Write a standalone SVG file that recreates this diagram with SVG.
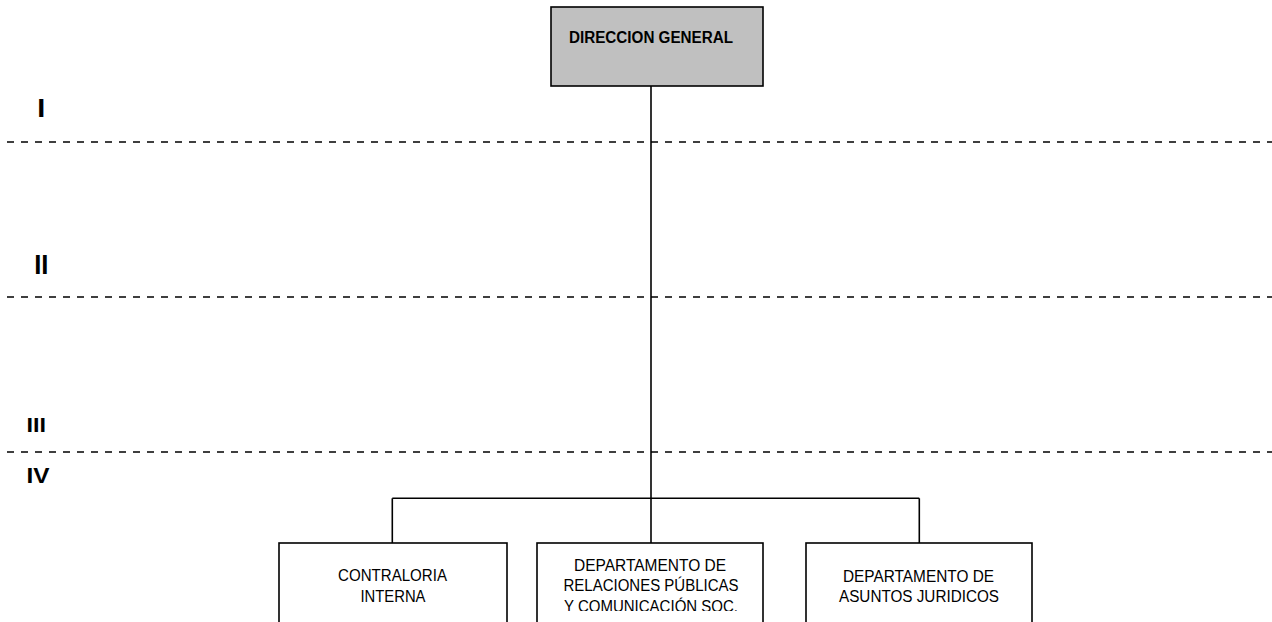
<svg xmlns="http://www.w3.org/2000/svg" width="1272" height="622" viewBox="0 0 1272 622">
<style>
.box{fill:#ffffff;stroke:#000;stroke-width:1.6}
.top{fill:#c0c0c0;stroke:#000;stroke-width:1.6}
.t{font-family:"Liberation Sans",Arial,sans-serif;font-size:16px;fill:#000;text-anchor:middle}
.b{font-weight:bold}
.lvl{font-family:"Liberation Sans",Arial,sans-serif;font-weight:bold;fill:#000}
.dash{stroke:#000;stroke-width:1.6;stroke-dasharray:7 7;fill:none}
.conn{stroke:#000;stroke-width:1.6;fill:none}
</style>
<defs>
<clipPath id="clipMid"><rect x="537" y="543" width="226" height="68"/></clipPath>
</defs>
<rect width="1272" height="622" fill="#ffffff"/>
<g id="levels">
<line class="dash" x1="7" y1="142" x2="1272" y2="142"/>
<line class="dash" x1="7" y1="297" x2="1272" y2="297"/>
<line class="dash" x1="7" y1="452" x2="1272" y2="452"/>
<text class="lvl" x="37.3" y="117" font-size="26.5" textLength="8" lengthAdjust="spacingAndGlyphs">I</text>
<text class="lvl" x="34.2" y="273.5" font-size="28" textLength="14.3" lengthAdjust="spacingAndGlyphs">II</text>
<text class="lvl" x="26.6" y="431.7" font-size="20" textLength="19.5" lengthAdjust="spacingAndGlyphs">III</text>
<text class="lvl" x="26.5" y="483" font-size="22.5" textLength="23" lengthAdjust="spacingAndGlyphs">IV</text>
</g>
<g id="connectors">
<line class="conn" x1="651" y1="86" x2="651" y2="543"/>
<line class="conn" x1="392.3" y1="498.3" x2="919.3" y2="498.3"/>
<line class="conn" x1="392.3" y1="498.3" x2="392.3" y2="543"/>
<line class="conn" x1="919.3" y1="498.3" x2="919.3" y2="543"/>
</g>
<g id="direccion-general">
<rect class="top" x="551" y="7" width="212" height="79"/>
<text class="t b" x="651" y="43" textLength="164" lengthAdjust="spacingAndGlyphs">DIRECCION GENERAL</text>
</g>
<g id="contraloria-interna">
<rect class="box" x="279" y="543" width="228" height="100"/>
<text class="t" x="392.5" y="581" textLength="109" lengthAdjust="spacingAndGlyphs">CONTRALORIA</text>
<text class="t" x="393" y="601.5" textLength="65" lengthAdjust="spacingAndGlyphs">INTERNA</text>
</g>
<g id="relaciones-publicas">
<rect class="box" x="537" y="543" width="226" height="100"/>
<g clip-path="url(#clipMid)">
<text class="t" x="650" y="571" textLength="152" lengthAdjust="spacingAndGlyphs">DEPARTAMENTO DE</text>
<text class="t" x="651" y="591" textLength="175" lengthAdjust="spacingAndGlyphs">RELACIONES PÚBLICAS</text>
<text class="t" x="651" y="612" textLength="174" lengthAdjust="spacingAndGlyphs">Y COMUNICACIÓN SOC.</text>
</g>
</g>
<g id="asuntos-juridicos">
<rect class="box" x="806" y="543" width="226" height="100"/>
<text class="t" x="918.5" y="581.5" textLength="151" lengthAdjust="spacingAndGlyphs">DEPARTAMENTO DE</text>
<text class="t" x="919" y="601.5" textLength="160" lengthAdjust="spacingAndGlyphs">ASUNTOS JURIDICOS</text>
</g>
</svg>
